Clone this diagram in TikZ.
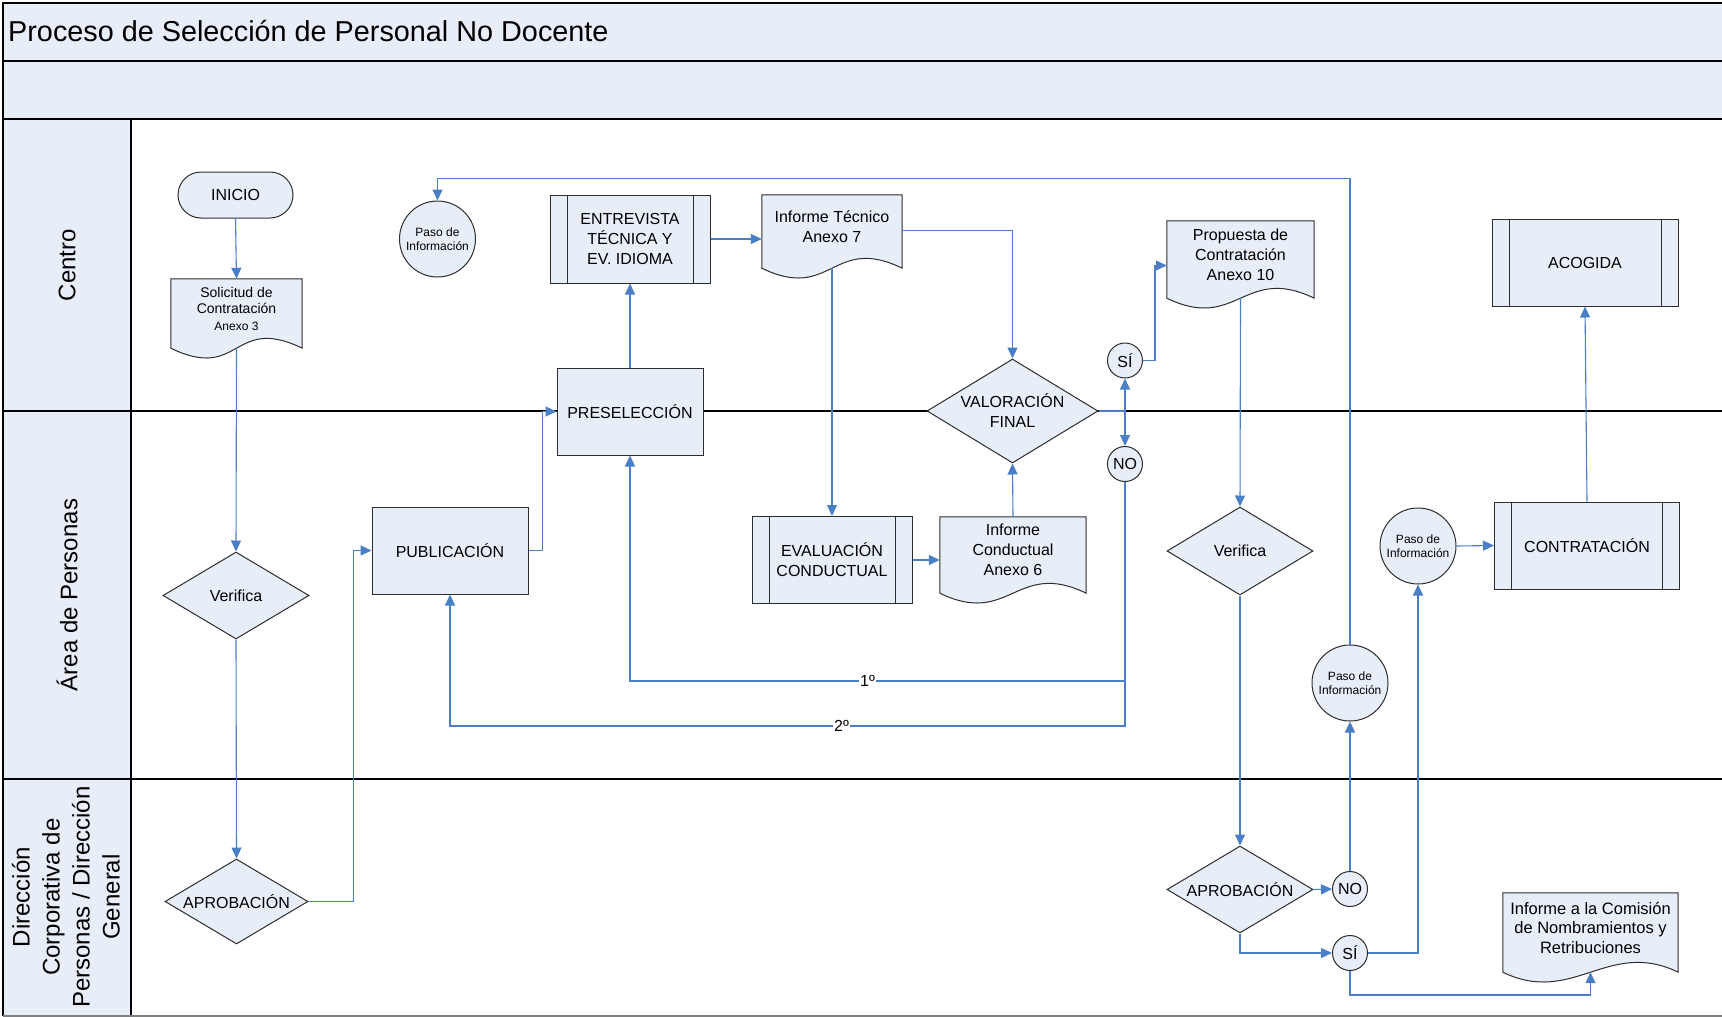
\documentclass[tikz,border=0pt]{standalone}
\usepackage{fontspec}
\setmainfont{Liberation Sans}
\usetikzlibrary{shapes.geometric,arrows.meta}
\definecolor{boxfill}{RGB}{232,238,247}
\definecolor{flowblue}{RGB}{74,126,199}
\definecolor{linegray}{RGB}{45,45,45}
\pgfdeclarelayer{bg}
\pgfsetlayers{bg,main}
\newcommand\fsz[2]{\fontsize{#1}{#2}\selectfont}
\newcommand\docshape[1]{%
  \draw[draw=linegray,line width=1pt,fill=boxfill] (#1.north west) -- (#1.north east) -- ([yshift=-10pt]#1.south east)
    .. controls +(-70,-34) and +(70,34) .. ([yshift=-10pt]#1.south west) -- cycle;
  \coordinate (#1-end) at ([yshift=-10pt]#1.south);}
\tikzstyle{base} = [draw=linegray,line width=1pt,fill=boxfill,inner sep=0pt,align=center,font=\fsz{16}{20}]
\tikzstyle{term} = [base,rectangle,rounded corners=23pt,minimum width=115pt,minimum height=46pt]
\tikzstyle{proc} = [base,rectangle,minimum width=#1,minimum height=87pt]
\tikzstyle{subproc} = [proc=#1,path picture={\draw[linegray,line width=1pt] ([xshift=17pt]path picture bounding box.north west) -- ([xshift=17pt]path picture bounding box.south west) ([xshift=-17pt]path picture bounding box.north east) -- ([xshift=-17pt]path picture bounding box.south east);}]
\tikzstyle{decision} = [base,diamond,aspect=1.65,minimum width=#1,minimum height=87pt]
\tikzstyle{docu} = [rectangle,inner sep=0pt,align=center,font=\fsz{16}{20},minimum width=#1]
\tikzstyle{paso} = [base,circle,minimum size=76pt,font=\fsz{12}{14}]
\tikzstyle{yn} = [base,circle,minimum size=35pt]
\tikzstyle{flow} = [draw=flowblue,line width=1.1pt,-{Triangle[length=11pt,width=10pt]}]
\tikzstyle{lane} = [draw=black,line width=1.3pt]
\tikzstyle{tag} = [fill=white,inner sep=1pt,font=\fsz{16}{20}]
\tikzstyle{lanelabel} = [rotate=90,align=center,font=\fsz{24}{30}]

\begin{document}
\begin{tikzpicture}[x=1pt,y=-1pt]
\useasboundingbox (0,0) rectangle (1722,1017);

\begin{pgfonlayer}{bg}
\fill[boxfill] (3,3) rectangle (1730,119);
\fill[boxfill] (3,119) rectangle (131,1016);
\draw[lane] (3,1016) -- (3,3) -- (1730,3);
\draw[lane] (3,61) -- (1730,61);
\draw[lane] (3,119) -- (1730,119);
\draw[lane] (3,411) -- (1730,411);
\draw[lane] (3,779) -- (1730,779);
\draw[lane] (131,119) -- (131,1016);
\draw[lane,draw=gray] (3,1016) -- (1730,1016);
\end{pgfonlayer}

\node[anchor=west,inner sep=0pt,font=\fsz{28.8}{34}] (title) at (8,31) {Proceso de Selección de Personal No Docente};
\node[lanelabel] (centro) at (67,265) {Centro};
\node[lanelabel] (personas) at (67,595) {Área de Personas};
\node[lanelabel] (direccion) at (66,897) {Dirección\\Corporativa de\\Personas / Dirección\\General};

\node[term] (inicio) at (235.5,195) {INICIO};
\node[docu=131pt,minimum height=59pt,font=\fsz{14}{16.5}] (solic) at (236.5,308.5) {Solicitud de\\Contratación\\{\fsz{12}{16.5}Anexo 3}};
\node[paso] (paso1) at (437.5,239) {Paso de\\Información};
\node[subproc=160pt,minimum height=88pt] (entrev) at (630,239) {ENTREVISTA\\TÉCNICA Y\\EV. IDIOMA};
\node[docu=140pt,minimum height=63pt] (inftec) at (832,226.5) {Informe Técnico\\Anexo 7};
\node[proc=146pt] (presel) at (630,411.5) {PRESELECCIÓN};
\node[decision=171pt,minimum height=104pt] (valor) at (1012.5,411) {VALORACIÓN\\FINAL};
\node[yn] (si1) at (1125,360.5) {SÍ};
\node[yn] (no1) at (1125,464) {NO};
\node[docu=147pt,minimum height=67pt] (propu) at (1240.5,254.5) {Propuesta de\\Contratación\\Anexo 10};
\node[subproc=186pt] (acog) at (1585,262.5) {ACOGIDA};

\node[decision=146pt] (verif1) at (236,595.5) {Verifica};
\node[proc=156pt] (publ) at (450,550.5) {PUBLICACIÓN};
\node[subproc=160pt] (evalc) at (832,560) {EVALUACIÓN\\CONDUCTUAL};
\node[docu=146pt,minimum height=66pt] (infcond) at (1013,550) {Informe\\Conductual\\Anexo 6};
\node[decision=146pt,minimum height=88pt] (verif2) at (1240,551) {Verifica};
\node[paso] (paso2) at (1350,683) {Paso de\\Información};
\node[paso] (paso3) at (1418,546) {Paso de\\Información};
\node[subproc=185pt] (contr) at (1587,545.5) {CONTRATACIÓN};

\node[decision=143pt,minimum height=85pt] (aprob1) at (236.5,901.5) {APROBACIÓN};
\node[decision=146pt] (aprob2) at (1240,889.5) {APROBACIÓN};
\node[yn] (no2) at (1350,889) {NO};
\node[yn] (si2) at (1350,953) {SÍ};
\node[docu=175pt,minimum height=69pt,font=\fsz{16.5}{19.5}] (comis) at (1590.5,927.5) {Informe a la Comisión\\de Nombramientos y\\Retribuciones};

\begin{pgfonlayer}{bg}
\docshape{solic}
\docshape{inftec}
\docshape{propu}
\docshape{infcond}
\docshape{comis}
\end{pgfonlayer}

\draw[flow] (inicio.south) -- (solic.north);
\draw[flow] (solic-end) -- (verif1.north);
\draw[flow] (verif1.south) -- (aprob1.north);
\draw[flow] (aprob1.east) -- ++(45,0) |- (publ.west);
\draw[flow] (publ.east) -- ++(14,0) |- (presel.west);
\draw[flow] (presel.north) -- (entrev.south);
\draw[flow] (entrev.east) -- (entrev.east -| inftec.west);
\draw[flow] ([yshift=-4pt]inftec.east) -| (valor.north);
\draw[flow] (inftec-end) -- (evalc.north);
\draw[flow] (evalc.east) -- (evalc.east -| infcond.west);
\draw[flow] (infcond.north) -- (valor.south);
\draw[flow] (valor.east) -| (si1.south);
\draw[flow] (valor.east) -| (no1.north);
\draw[flow] (si1.east) -- ++(12,0) |- ([yshift=-11pt]propu.west);
\draw[flow] (no1.south) -- ++(0,199) -| node[tag,pos=0.26] {1º} (presel.south);
\draw[flow] (no1.south) -- ++(0,244) -| node[tag,pos=0.21] {2º} (publ.south);
\draw[flow] (paso2.north) -- ++(0,-466) -| (paso1.north);
\draw[flow] (propu-end) -- (verif2.north);
\draw[flow] (verif2.south) -- (aprob2.north);
\draw[flow] (aprob2.east) -- (no2.west);
\draw[flow] (no2.north) -- (paso2.south);
\draw[flow] (aprob2.south) |- (si2.west);
\draw[flow] (si2.east) -| (paso3.south);
\draw[flow] (si2.south) -- ++(0,24) -| (comis-end);
\draw[flow] (paso3.east) -- (contr.west);
\draw[flow] (contr.north) -- (acog.south);

\end{tikzpicture}
\end{document}
